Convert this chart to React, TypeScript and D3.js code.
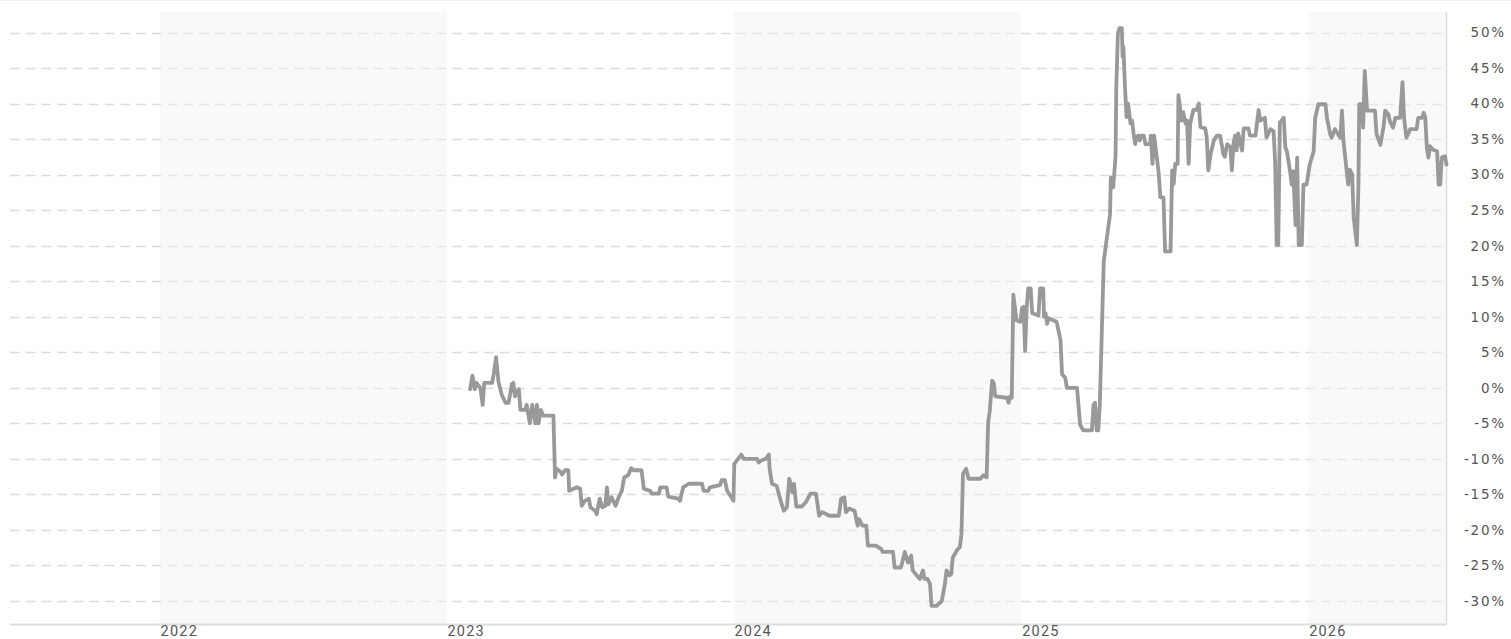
import React from "react";
import * as d3 from "d3";

const dates: string[] = [
"2023-01-31","2023-02-03","2023-02-06","2023-02-08","2023-02-13","2023-02-16","2023-02-18","2023-02-28","2023-03-02","2023-03-05",
"2023-03-08","2023-03-12","2023-03-17","2023-03-21","2023-03-25","2023-03-27","2023-03-29","2023-04-03","2023-04-05","2023-04-11",
"2023-04-13","2023-04-17","2023-04-20","2023-04-24","2023-04-26","2023-04-28","2023-05-01","2023-05-04","2023-05-17","2023-05-19",
"2023-05-21","2023-05-26","2023-05-28","2023-06-01","2023-06-05","2023-06-06","2023-06-16","2023-06-20","2023-06-22","2023-06-26",
"2023-07-01","2023-07-03","2023-07-09","2023-07-11","2023-07-13","2023-07-15","2023-07-18","2023-07-22","2023-07-24","2023-07-26",
"2023-07-30","2023-08-04","2023-08-08","2023-08-12","2023-08-15","2023-08-20","2023-08-24","2023-08-27","2023-09-06","2023-09-09",
"2023-09-17","2023-09-19","2023-09-28","2023-09-30","2023-10-08","2023-10-10","2023-10-23","2023-10-25","2023-10-29","2023-11-05",
"2023-11-22","2023-11-24","2023-11-30","2023-12-02","2023-12-15","2023-12-17","2023-12-21","2023-12-24","2023-12-28","2024-01-01",
"2024-01-02","2024-01-11","2024-01-14","2024-01-31","2024-02-02","2024-02-06","2024-02-11","2024-02-15","2024-02-16","2024-02-19",
"2024-02-25","2024-03-01","2024-03-05","2024-03-09","2024-03-12","2024-03-16","2024-03-18","2024-03-21","2024-03-28","2024-04-02",
"2024-04-08","2024-04-15","2024-04-19","2024-04-23","2024-05-02","2024-05-14","2024-05-17","2024-05-21","2024-05-23","2024-05-27",
"2024-06-03","2024-06-07","2024-06-09","2024-06-13","2024-06-18","2024-06-20","2024-06-30","2024-07-07","2024-07-09","2024-07-22",
"2024-07-24","2024-08-01","2024-08-06","2024-08-10","2024-08-14","2024-08-16","2024-08-21","2024-08-25","2024-08-29","2024-08-31",
"2024-09-04","2024-09-07","2024-09-09","2024-09-15","2024-09-22","2024-09-26","2024-09-28","2024-10-02","2024-10-04","2024-10-06",
"2024-10-11","2024-10-15","2024-10-17","2024-10-19","2024-10-23","2024-10-26","2024-11-10","2024-11-14","2024-11-18","2024-11-20",
"2024-11-22","2024-11-25","2024-11-27","2024-11-29","2024-12-14","2024-12-16","2024-12-18","2024-12-20","2024-12-22","2024-12-26",
"2024-12-31","2025-01-02","2025-01-04","2025-01-06","2025-01-08","2025-01-10","2025-01-13","2025-01-15","2025-01-23","2025-01-25",
"2025-01-29","2025-01-30","2025-02-01","2025-02-03","2025-02-05","2025-02-15","2025-02-20","2025-02-22","2025-02-26","2025-02-28",
"2025-03-13","2025-03-17","2025-03-21","2025-04-01","2025-04-03","2025-04-05","2025-04-07","2025-04-09","2025-04-11","2025-04-16",
"2025-04-20","2025-04-24","2025-04-25","2025-04-28","2025-05-01","2025-05-02","2025-05-04","2025-05-06","2025-05-09","2025-05-10",
"2025-05-11","2025-05-13","2025-05-15","2025-05-17","2025-05-20","2025-05-22","2025-05-24","2025-05-26","2025-05-28","2025-05-30",
"2025-06-01","2025-06-03","2025-06-06","2025-06-08","2025-06-14","2025-06-15","2025-06-17","2025-06-19","2025-06-23","2025-06-25",
"2025-06-27","2025-07-01","2025-07-03","2025-07-10","2025-07-12","2025-07-14","2025-07-16","2025-07-19","2025-07-20","2025-07-22",
"2025-07-24","2025-07-26","2025-07-29","2025-07-31","2025-08-02","2025-08-04","2025-08-08","2025-08-12","2025-08-15","2025-08-17",
"2025-08-23","2025-08-25","2025-08-27","2025-08-30","2025-09-03","2025-09-07","2025-09-11","2025-09-13","2025-09-15","2025-09-17",
"2025-09-20","2025-09-24","2025-09-26","2025-09-28","2025-09-30","2025-10-02","2025-10-04","2025-10-09","2025-10-11","2025-10-17",
"2025-10-19","2025-10-26","2025-10-30","2025-11-01","2025-11-07","2025-11-09","2025-11-14","2025-11-18","2025-11-20","2025-11-22",
"2025-11-24","2025-11-26","2025-12-01","2025-12-03","2025-12-05","2025-12-09","2025-12-11","2025-12-13","2025-12-16","2025-12-18",
"2025-12-20","2025-12-24","2025-12-26","2025-12-30","2026-01-03","2026-01-08","2026-01-10","2026-01-14","2026-01-23","2026-01-25",
"2026-01-29","2026-01-31","2026-02-04","2026-02-11","2026-02-13","2026-02-15","2026-02-19","2026-02-21","2026-02-23","2026-02-26",
"2026-02-28","2026-03-04","2026-03-06","2026-03-07","2026-03-10","2026-03-12","2026-03-14","2026-03-17","2026-03-27","2026-03-29",
"2026-04-03","2026-04-07","2026-04-09","2026-04-13","2026-04-15","2026-04-19","2026-04-22","2026-04-28","2026-05-01","2026-05-03",
"2026-05-06","2026-05-11","2026-05-19","2026-05-21","2026-05-26","2026-05-28","2026-05-30","2026-06-01","2026-06-03","2026-06-05",
"2026-06-09","2026-06-14","2026-06-16","2026-06-18","2026-06-20","2026-06-24","2026-06-26"
];

const values: number[] = [
-0.2,1.7,-0.2,0.7,0,-2.4,0.7,0.7,1.9,4.3,
0.9,-0.9,-2.1,-2.1,0.5,0.7,-1.2,-0.2,-3.1,-3.1,
-2.4,-5,-2.4,-5,-2.4,-5,-3.1,-3.9,-3.9,-12.6,
-11.4,-11.8,-12.2,-11.6,-11.6,-14.5,-14,-14.2,-16.6,-15.9,
-15.6,-16.8,-17.3,-17.8,-16.6,-15.6,-16.8,-16.6,-14,-16.4,
-15.4,-16.6,-15.4,-14.5,-12.6,-12.3,-11.3,-11.6,-11.6,-14.2,
-14.5,-14.9,-14.9,-14,-14,-15.3,-15.6,-15.9,-14,-13.5,
-13.5,-14.5,-14.5,-14,-13.7,-13,-13,-14.5,-15.2,-15.9,
-10.7,-9.4,-10,-10,-10.5,-10.2,-10,-9.4,-11.4,-13.5,
-13.8,-15.9,-17.3,-16.8,-12.8,-14.7,-13.5,-16.7,-16.7,-16.1,
-14.9,-14.9,-18,-17.5,-18,-18,-15.6,-15.4,-17.5,-17,
-17.3,-19.4,-18.5,-19.4,-19.4,-22.2,-22.2,-22.7,-23.1,-23.1,
-25.3,-25.3,-23.1,-24.6,-23.6,-25.7,-26.4,-26.9,-25.7,-26.9,
-26.9,-27.6,-30.7,-30.7,-30,-27.6,-25.7,-26.4,-26.2,-23.9,
-22.9,-22.4,-20.6,-12.1,-11.4,-12.8,-12.8,-12.3,-12.6,-4.8,
-3.3,1,0.7,-1.2,-1.4,-2.1,-1.2,-1.4,13.1,9.5,
9.3,11.2,11.4,5.2,11.4,14,14,10.5,10.2,14,
14,10,10.5,9,9.8,9.3,6.7,1.9,1.4,0,
0,-5.2,-6,-6,-2.4,-2.1,-6,-6,-2.4,17.8,
21.1,24.4,29.6,28.2,32.5,42.4,49.9,50.6,50.6,46.6,
48,42.4,38.1,40,37.2,37.6,35.8,34.3,35.3,35.5,
34.8,35.5,35.5,34.3,34.3,35.5,31.5,35.5,32,30.1,
26.8,26.8,19.2,19.2,30.6,28.7,31.5,31.5,41.2,39.5,
37.6,38.8,37.2,37.6,31.5,37.2,39.1,39.1,40,36.7,
36.5,35.3,30.6,32.9,34.8,35.5,35.5,34.3,32.9,32.5,
34.3,33.9,30.6,34.3,35.5,33.4,35.8,33.4,36.5,36.5,
35.5,35.5,39.1,37.6,38,35.2,36.4,36.1,31.9,20.1,
20.1,37.3,38,33.8,33.3,30.5,28.6,30.5,22.9,32.4,
20.1,20.1,28.6,28.6,31.4,33.3,38,39.9,39.9,38,
35.7,35.2,36.4,35.2,39,34.7,30.5,28.6,30.7,30,
23.9,20.1,28.6,39.9,39.9,36.6,44.6,39,39,35.7,
34.2,36.8,39,38.5,37.5,36.6,38,38,43,38,
35.2,36.4,36.4,38,38,38.7,38,33.8,32.4,34,
33.5,33.3,28.6,28.6,32.4,32.6,31.4
];

const yTicks: number[] = [50, 45, 40, 35, 30, 25, 20, 15, 10, 5, 0, -5, -10, -15, -20, -25, -30];
const yearLabels: string[] = ["2022", "2023", "2024", "2025", "2026"];
const shadedYears: string[] = ["2022", "2024", "2026"];
const domainStart = "2021-06-26";
const domainEnd = "2026-06-26";

export default function App() {
  const W = 1511, H = 639;
  const left = 10, right = 1446.5, top = 12, bottom = 624;
  const parse = d3.timeParse("%Y-%m-%d");
  const x = d3.scaleTime().domain([parse(domainStart)!, parse(domainEnd)!]).range([left + 1, right]);
  const y = d3.scaleLinear().domain([-30, 50]).range([601, 32.5]);
  const data = dates.map((d, i) => ({ date: parse(d)!, v: values[i] }));
  const line = d3.line<{ date: Date; v: number }>().x(d => x(d.date)).y(d => y(d.v));
  const yearStart = (yr: string) => new Date(+yr, 0, 1);

  return (
    <svg width={W} height={H} style={{ position: "absolute", left: 0, top: 0, background: "#fff" }}>
      <line x1={0} x2={W} y1={0.5} y2={0.5} stroke="#efefef" />
      {yTicks.map(t => (
        <line key={"g" + t} x1={left} x2={right} y1={Math.round(y(t)) + 0.5} y2={Math.round(y(t)) + 0.5}
          stroke="#dcdcdc" strokeWidth={1.3} strokeDasharray="9.5,6.3" />
      ))}
      {shadedYears.map(yr => {
        const x0 = x(yearStart(yr));
        const x1 = Math.min(x(yearStart(String(+yr + 1))), right);
        return <rect key={"b" + yr} x={x0} y={top} width={x1 - x0} height={bottom - top} fill="#f2f2f2" opacity={0.45} />;
      })}
      <line x1={right} x2={right} y1={top} y2={bottom} stroke="#dddddd" strokeWidth={1.5} />
      <line x1={left} x2={right} y1={bottom + 0.5} y2={bottom + 0.5} stroke="#dddddd" strokeWidth={2} />
      <path d={line(data) || ""} fill="none" stroke="#999999" strokeWidth={3.8} strokeLinejoin="round" strokeLinecap="round" />
      {yTicks.map(t => (
        <text key={"l" + t} x={1506} y={y(t)} dy="0.36em" textAnchor="end"
          fontFamily="'DejaVu Sans', Verdana, sans-serif" fontSize={13.5} letterSpacing={1.8} fill="#555">
          {t + "%"}
        </text>
      ))}
      {yearLabels.map(yr => (
        <text key={"x" + yr} x={x(yearStart(yr)) + 1} y={635.5} fontFamily="Roboto, sans-serif" fontSize={14.5}
          letterSpacing={1.2} fill="#555">
          {yr}
        </text>
      ))}
    </svg>
  );
}
